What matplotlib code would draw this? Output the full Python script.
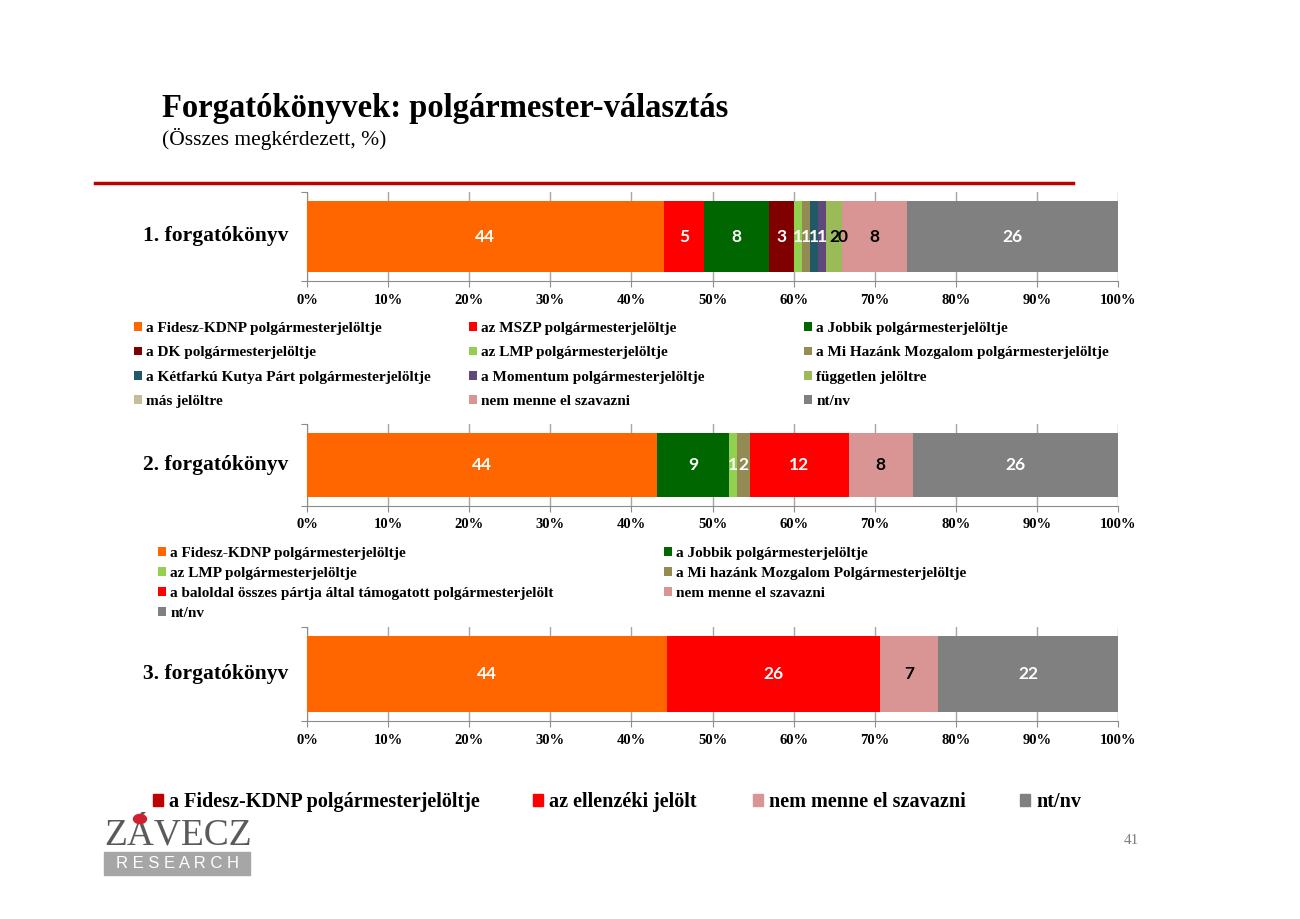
import matplotlib
matplotlib.use("Agg")
import matplotlib.pyplot as plt
from matplotlib.patches import Rectangle, Circle
from matplotlib.lines import Line2D

plt.rcParams['font.family'] = ['Liberation Serif', 'DejaVu Serif']

###############################################################
###         dane

title = "Forgatókönyvek: polgármester-választás"
subtitle = "(Összes megkérdezett, %)"

ticks = [0, 10, 20, 30, 40, 50, 60, 70, 80, 90, 100]
tick_labels = [f"{t}%" for t in ticks]

# 1. forgatókönyv
s1_name = "1. forgatókönyv"
s1_cats = ["a Fidesz-KDNP polgármesterjelöltje", "az MSZP polgármesterjelöltje",
           "a Jobbik polgármesterjelöltje", "a DK polgármesterjelöltje",
           "az LMP polgármesterjelöltje", "a Mi Hazánk Mozgalom polgármesterjelöltje",
           "a Kétfarkú Kutya Párt polgármesterjelöltje", "a Momentum polgármesterjelöltje",
           "független jelöltre", "más jelöltre", "nem menne el szavazni", "nt/nv"]
s1_vals = [44, 5, 8, 3, 1, 1, 1, 1, 2, 0, 8, 26]
s1_labels = ["44", "5", "8", "3", "1", "1", "1", "1", "2", "0", "8", "26"]
s1_colors = ["#FF6600", "#FF0000", "#006600", "#800000", "#92D050", "#948A54",
             "#215968", "#5F497A", "#9BBB59", "#C4BD97", "#D99594", "#808080"]
s1_txt = ["white", "white", "white", "white", "white", "white",
          "white", "white", "black", "black", "black", "white"]

# 2. forgatókönyv
s2_name = "2. forgatókönyv"
s2_cats = ["a Fidesz-KDNP polgármesterjelöltje", "a Jobbik polgármesterjelöltje",
           "az LMP polgármesterjelöltje", "a Mi hazánk Mozgalom Polgármesterjelöltje",
           "a baloldal összes pártja által támogatott polgármesterjelölt",
           "nem menne el szavazni", "nt/nv"]
s2_vals = [43.2, 8.8, 1.0, 1.6, 12.2, 7.9, 25.3]
s2_labels = ["44", "9", "1", "2", "12", "8", "26"]
s2_colors = ["#FF6600", "#006600", "#92D050", "#948A54", "#FF0000", "#D99594", "#808080"]
s2_txt = ["white", "white", "white", "white", "white", "black", "white"]

# 3. forgatókönyv
s3_name = "3. forgatókönyv"
s3_cats = ["a Fidesz-KDNP polgármesterjelöltje", "az ellenzéki jelölt",
           "nem menne el szavazni", "nt/nv"]
s3_vals = [44.4, 26.3, 7.1, 22.2]
s3_labels = ["44", "26", "7", "22"]
s3_colors = ["#FF6600", "#FF0000", "#D99594", "#808080"]
s3_legend_colors = ["#C00000", "#FF0000", "#D99594", "#808080"]
s3_txt = ["white", "white", "black", "white"]

###############################################################

W, H = 1300, 919
fig = plt.figure(figsize=(13, 9.19), dpi=100)


def fx(px):
    return px / W


def fy(py):
    return 1 - py / H


def _bar(top, bottom, bar_h, name, vals, labels, colors, txt):
    ax = fig.add_axes([fx(307), fy(bottom), fx(1118) - fx(307), fy(top) - fy(bottom)])
    left = 0
    handles = []
    for v, lab, c, tc in zip(vals, labels, colors, txt):
        b = ax.barh(0, v, left=left, height=bar_h, color=c, zorder=3)
        handles.append(b[0])
        ax.text(left + v / 2, 0, lab, ha="center", va="center", color=tc,
                fontsize=12.5, fontweight="bold", family="Lato", zorder=4)
        left += v
    ax.set_xlim(0, 100)
    ax.set_ylim(-0.5, 0.5)
    ax.set_xticks(ticks)
    ax.set_xticklabels(tick_labels, fontsize=10.5, fontweight="bold")
    ax.set_yticks([-0.5, 0.5])
    ax.set_yticklabels(["", ""])
    ax.tick_params(axis="both", length=4, color="#8C8C8C", pad=5)
    ax.grid(axis="x", color="#A6A6A6", lw=1, zorder=0)
    for s in ["top", "right"]:
        ax.spines[s].set_visible(False)
    for s in ["left", "bottom"]:
        ax.spines[s].set_color("#8C8C8C")
    ax.text(-0.023, 0.5, name, transform=ax.transAxes, ha="right", va="center",
            fontsize=15.5, fontweight="bold")
    return handles


h1 = _bar(192, 281, 0.79, s1_name, s1_vals, s1_labels, s1_colors, s1_txt)
h2 = _bar(424, 506, 0.77, s2_name, s2_vals, s2_labels, s2_colors, s2_txt)
h3 = _bar(627, 721, 0.81, s3_name, s3_vals, s3_labels, s3_colors, s3_txt)

# legendy
leg_kw = dict(frameon=False, handlelength=0.5, handleheight=0.5, handletextpad=0.3,
              borderpad=0, borderaxespad=0, prop=dict(weight="bold", size=11))

# 1. legenda: 3 kolumny
for col, x in enumerate([134, 469, 804]):
    idx = list(range(col, len(s1_cats), 3))
    fig.legend([h1[i] for i in idx], [s1_cats[i] for i in idx],
               loc="upper left", bbox_to_anchor=(fx(x), fy(322)),
               labelspacing=0.74, **leg_kw)

# 2. legenda: 2 kolumny
for col, x in enumerate([158, 664]):
    idx = list(range(col, len(s2_cats), 2))
    fig.legend([h2[i] for i in idx], [s2_cats[i] for i in idx],
               loc="upper left", bbox_to_anchor=(fx(x), fy(547)),
               labelspacing=0.46, **leg_kw)

# 3. legenda: jeden wiersz
leg3_kw = dict(leg_kw)
leg3_kw["prop"] = dict(weight="bold", size=14.5)
for i, x in enumerate([153, 533, 753, 1020]):
    patch = Rectangle((0, 0), 1, 1, color=s3_legend_colors[i])
    fig.legend([patch], [s3_cats[i]], loc="center left",
               bbox_to_anchor=(fx(x), fy(802)), **leg3_kw)

# tytuł
fig.text(fx(162), fy(109), title, fontsize=23.5, fontweight="bold", va="center")
fig.text(fx(162), fy(139), subtitle, fontsize=15.5, va="center")
fig.add_artist(Line2D([fx(95), fx(1073)], [fy(183), fy(183)], color="#C00000", lw=2.5))

# logo
fig.text(fx(104), fy(835), "ZÁVECZ", fontsize=27, color="#5A5A5A", va="center",
         family="Liberation Serif")
fig.add_artist(Circle((fx(140), fy(819)), 0.005, transform=fig.transFigure,
                      color="#D02030", zorder=5))
fig.add_artist(Rectangle((fx(104), fy(875)), fx(250) - fx(104), fy(852) - fy(875),
                         transform=fig.transFigure, color="#A6A6A6"))
fig.text(fx(177), fy(863), "R E S E A R C H", fontsize=12, color="white",
         ha="center", va="center", family="Liberation Sans")

fig.text(fx(1131), fy(840), "41", fontsize=11, color="#7F7F7F", ha="center", va="center")

fig.savefig("out.png", dpi=100)
